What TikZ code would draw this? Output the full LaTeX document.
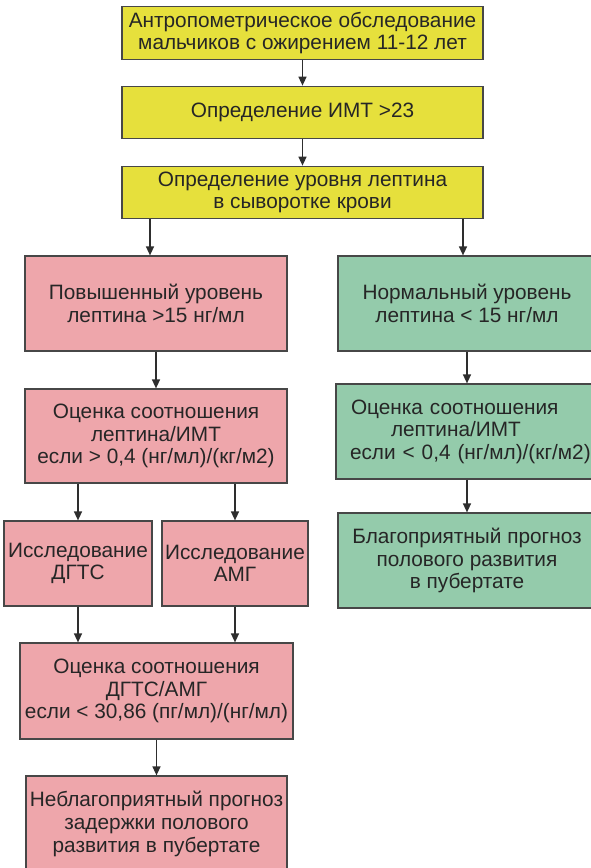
\documentclass[tikz,border=0pt]{standalone}
\usepackage{fontspec}
\setmainfont{Liberation Sans}
\usetikzlibrary{arrows.meta}
\definecolor{yel}{HTML}{E6E03C}
\definecolor{pnk}{HTML}{EEA6AB}
\definecolor{grn}{HTML}{94CBAB}
\definecolor{bordc}{HTML}{474747}
\definecolor{txtc}{HTML}{262626}
\definecolor{arrc}{HTML}{2E2E2E}
\begin{document}
\begin{tikzpicture}[x=1pt,y=-1pt,
  box/.style={draw=bordc, line width=1.2pt, inner sep=0pt, align=center,
    font=\fontsize{20.8}{22.6}\selectfont, text=txtc},
  ybox/.style={box, fill=yel, minimum width=361pt, minimum height=52.5pt},
  pbox/.style={box, fill=pnk},
  gbox/.style={box, fill=grn, minimum width=258pt, minimum height=95pt},
  arr/.style={draw=arrc, line width=1.4pt, -{Triangle[length=9pt,width=8pt]}}]
\useasboundingbox (0,0) rectangle (591,868);

\node[ybox] (Y1) at (302.5,33) {Антропометрическое обследование\\мальчиков с ожирением 11-12 лет};
\node[ybox] (Y2) at (302.5,112.5) {Определение ИМТ >23};
\node[ybox] (Y3) at (302.5,192.5) {Определение уровня лептина\\в сыворотке крови};

\node[pbox, minimum width=262pt, minimum height=95pt] (P1) at (156,303.5) {Повышенный уровень\\лептина >15 нг/мл};
\node[gbox] (G1) at (467,303.5) {Нормальный уровень\\лептина < 15 нг/мл};

\node[pbox, minimum width=262pt, minimum height=94pt] (P2) at (156,436) {Оценка соотношения\\лептина/ИМТ\\если > 0,4 (нг/мл)/(кг/м2)};
\node[gbox, align=left, text width=262pt] (G2) at (467,431.5) {\hspace*{15pt}Оценка соотношения\\\hspace*{55pt}лептина/ИМТ\\\hspace*{14pt}если < 0,4 (нг/мл)/(кг/м2)};

\node[pbox, minimum width=148pt, minimum height=85pt] (D) at (78,563.5) {Исследование\\ДГТС};
\node[pbox, minimum width=146pt, minimum height=85pt] (A) at (235,563.5) {Исследование\\АМГ};
\node[gbox] (G3) at (467,560.5) {Благоприятный прогноз\\полового развития\\в пубертате};

\node[pbox, minimum width=273pt, minimum height=96pt] (P3) at (156.5,691) {Оценка соотношения\\ДГТС/АМГ\\если < 30,86 (пг/мл)/(нг/мл)};
\node[pbox, minimum width=261pt, minimum height=96pt] (P4) at (156.5,824) {Неблагоприятный прогноз\\задержки полового\\развития в пубертате};

\coordinate (cL) at (150,0);
\coordinate (cR) at (463,0);

\draw[arr] (Y1.south) -- (Y2.north);
\draw[arr] (Y2.south) -- (Y3.north);
\draw[arr] (Y3.south -| cL) -- (P1.north -| cL);
\draw[arr] (Y3.south -| cR) -- (G1.north -| cR);
\draw[arr] (P1.south) -- (P2.north);
\draw[arr] (G1.south) -- (G2.north);
\draw[arr] (P2.south -| D.north) -- (D.north);
\draw[arr] (P2.south -| A.north) -- (A.north);
\draw[arr] (G2.south) -- (G3.north);
\draw[arr] (D.south) -- (D.south |- P3.north);
\draw[arr] (A.south) -- (A.south |- P3.north);
\draw[arr] (P3.south) -- (P4.north);
\end{tikzpicture}
\end{document}
